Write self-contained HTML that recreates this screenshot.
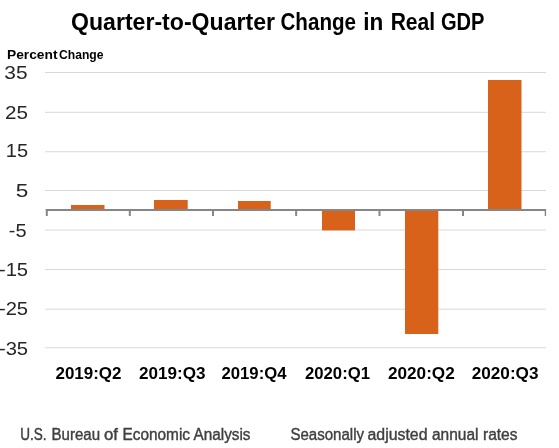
<!DOCTYPE html>
<html><head><meta charset="utf-8">
<style>
html,body{margin:0;padding:0;background:#fff;}
body{width:559px;height:448px;overflow:hidden;}
svg{display:block;will-change:transform;}
text{font-family:"Liberation Sans",sans-serif;}
</style></head>
<body>
<svg width="559" height="448" viewBox="0 0 559 448">
<rect width="559" height="448" fill="#fff"/>
<g stroke="#d9d9d9" stroke-width="1">
<line x1="45" y1="72.5" x2="546" y2="72.5"/>
<line x1="45" y1="112.3" x2="546" y2="112.3"/>
<line x1="45" y1="151.75" x2="546" y2="151.75"/>
<line x1="45" y1="190.5" x2="546" y2="190.5"/>
<line x1="45" y1="230.0" x2="546" y2="230.0"/>
<line x1="45" y1="269.5" x2="546" y2="269.5"/>
<line x1="45" y1="309.2" x2="546" y2="309.2"/>
<line x1="45" y1="347.75" x2="546" y2="347.75"/>
</g>
<g fill="#D9621A">
<rect x="71" y="205" width="33.5" height="5"/>
<rect x="154" y="200" width="33.69999999999999" height="10"/>
<rect x="238" y="201" width="32.69999999999999" height="9"/>
<rect x="322" y="210" width="33" height="20.400000000000006"/>
<rect x="405" y="210" width="33.30000000000001" height="124"/>
<rect x="488" y="80" width="33.5" height="130"/>
</g>
<g stroke="#868686" stroke-width="2" fill="none">
<line x1="45.8" y1="210" x2="546" y2="210"/>
<line x1="545.4" y1="209" x2="545.4" y2="216" stroke-width="1.4"/>
<line x1="46.8" y1="209" x2="46.8" y2="216"/>
<line x1="129.8" y1="209" x2="129.8" y2="216"/>
<line x1="213" y1="209" x2="213" y2="216"/>
<line x1="296.15" y1="209" x2="296.15" y2="216"/>
<line x1="379.5" y1="209" x2="379.5" y2="216"/>
<line x1="463" y1="209" x2="463" y2="216"/>
</g>
<text x="70.99" y="29.50" font-size="23.00" font-weight="bold" fill="#000" textLength="204.01" lengthAdjust="spacingAndGlyphs">Quarter-to-Quarter</text>
<text x="280.49" y="29.50" font-size="23.00" font-weight="bold" fill="#000" textLength="75.53" lengthAdjust="spacingAndGlyphs">Change</text>
<text x="363.24" y="29.50" font-size="23.00" font-weight="bold" fill="#000" textLength="20.06" lengthAdjust="spacingAndGlyphs">in</text>
<text x="390.66" y="29.50" font-size="23.00" font-weight="bold" fill="#000" textLength="44.44" lengthAdjust="spacingAndGlyphs">Real</text>
<text x="440.97" y="29.50" font-size="23.00" font-weight="bold" fill="#000" textLength="43.56" lengthAdjust="spacingAndGlyphs">GDP</text>
<text x="6.98" y="58.80" font-size="12.80" font-weight="bold" fill="#000" textLength="50.54" lengthAdjust="spacingAndGlyphs">Percent</text>
<text x="59.00" y="58.80" font-size="12.80" font-weight="bold" fill="#000" textLength="44.50" lengthAdjust="spacingAndGlyphs">Change</text>
<text x="4.37" y="79.40" font-size="19.00" font-weight="normal" fill="#262626" textLength="23.23" lengthAdjust="spacingAndGlyphs">35</text>
<text x="5.14" y="118.90" font-size="19.00" font-weight="normal" fill="#262626" textLength="22.96" lengthAdjust="spacingAndGlyphs">25</text>
<text x="5.88" y="157.30" font-size="19.00" font-weight="normal" fill="#262626" textLength="22.25" lengthAdjust="spacingAndGlyphs">15</text>
<text x="15.72" y="196.90" font-size="19.00" font-weight="normal" fill="#262626" textLength="12.55" lengthAdjust="spacingAndGlyphs">5</text>
<text x="8.84" y="236.90" font-size="19.00" font-weight="normal" fill="#262626" textLength="17.75" lengthAdjust="spacingAndGlyphs">-5</text>
<text x="-1.09" y="276.40" font-size="19.00" font-weight="normal" fill="#262626" textLength="29.18" lengthAdjust="spacingAndGlyphs">-15</text>
<text x="-1.09" y="314.60" font-size="19.00" font-weight="normal" fill="#262626" textLength="29.18" lengthAdjust="spacingAndGlyphs">-25</text>
<text x="-1.09" y="354.60" font-size="19.00" font-weight="normal" fill="#262626" textLength="29.18" lengthAdjust="spacingAndGlyphs">-35</text>
<text x="55.49" y="378.60" font-size="16.50" font-weight="bold" fill="#000" textLength="66.02" lengthAdjust="spacingAndGlyphs">2019:Q2</text>
<text x="138.99" y="378.60" font-size="16.50" font-weight="bold" fill="#000" textLength="66.53" lengthAdjust="spacingAndGlyphs">2019:Q3</text>
<text x="221.49" y="378.60" font-size="16.50" font-weight="bold" fill="#000" textLength="65.02" lengthAdjust="spacingAndGlyphs">2019:Q4</text>
<text x="304.99" y="378.60" font-size="16.50" font-weight="bold" fill="#000" textLength="65.01" lengthAdjust="spacingAndGlyphs">2020:Q1</text>
<text x="387.98" y="378.60" font-size="16.50" font-weight="bold" fill="#000" textLength="66.78" lengthAdjust="spacingAndGlyphs">2020:Q2</text>
<text x="471.74" y="378.60" font-size="16.50" font-weight="bold" fill="#000" textLength="66.78" lengthAdjust="spacingAndGlyphs">2020:Q3</text>
<text x="20.20" y="439.60" font-size="16.00" font-weight="normal" fill="#404040" stroke="#404040" stroke-width="0.40" textLength="26.35" lengthAdjust="spacingAndGlyphs">U.S.</text>
<text x="51.47" y="439.60" font-size="16.00" font-weight="normal" fill="#404040" stroke="#404040" stroke-width="0.40" textLength="48.58" lengthAdjust="spacingAndGlyphs">Bureau</text>
<text x="104.00" y="439.60" font-size="16.00" font-weight="normal" fill="#404040" stroke="#404040" stroke-width="0.40" textLength="14.00" lengthAdjust="spacingAndGlyphs">of</text>
<text x="122.49" y="439.60" font-size="16.00" font-weight="normal" fill="#404040" stroke="#404040" stroke-width="0.40" textLength="67.51" lengthAdjust="spacingAndGlyphs">Economic</text>
<text x="193.49" y="439.60" font-size="16.00" font-weight="normal" fill="#404040" stroke="#404040" stroke-width="0.40" textLength="57.01" lengthAdjust="spacingAndGlyphs">Analysis</text>
<text x="290.49" y="439.60" font-size="16.00" font-weight="normal" fill="#404040" stroke="#404040" stroke-width="0.40" textLength="73.51" lengthAdjust="spacingAndGlyphs">Seasonally</text>
<text x="367.50" y="439.60" font-size="16.00" font-weight="normal" fill="#404040" stroke="#404040" stroke-width="0.40" textLength="60.02" lengthAdjust="spacingAndGlyphs">adjusted</text>
<text x="432.00" y="439.60" font-size="16.00" font-weight="normal" fill="#404040" stroke="#404040" stroke-width="0.40" textLength="46.52" lengthAdjust="spacingAndGlyphs">annual</text>
<text x="482.98" y="439.60" font-size="16.00" font-weight="normal" fill="#404040" stroke="#404040" stroke-width="0.40" textLength="34.53" lengthAdjust="spacingAndGlyphs">rates</text>
</svg>
</body></html>
